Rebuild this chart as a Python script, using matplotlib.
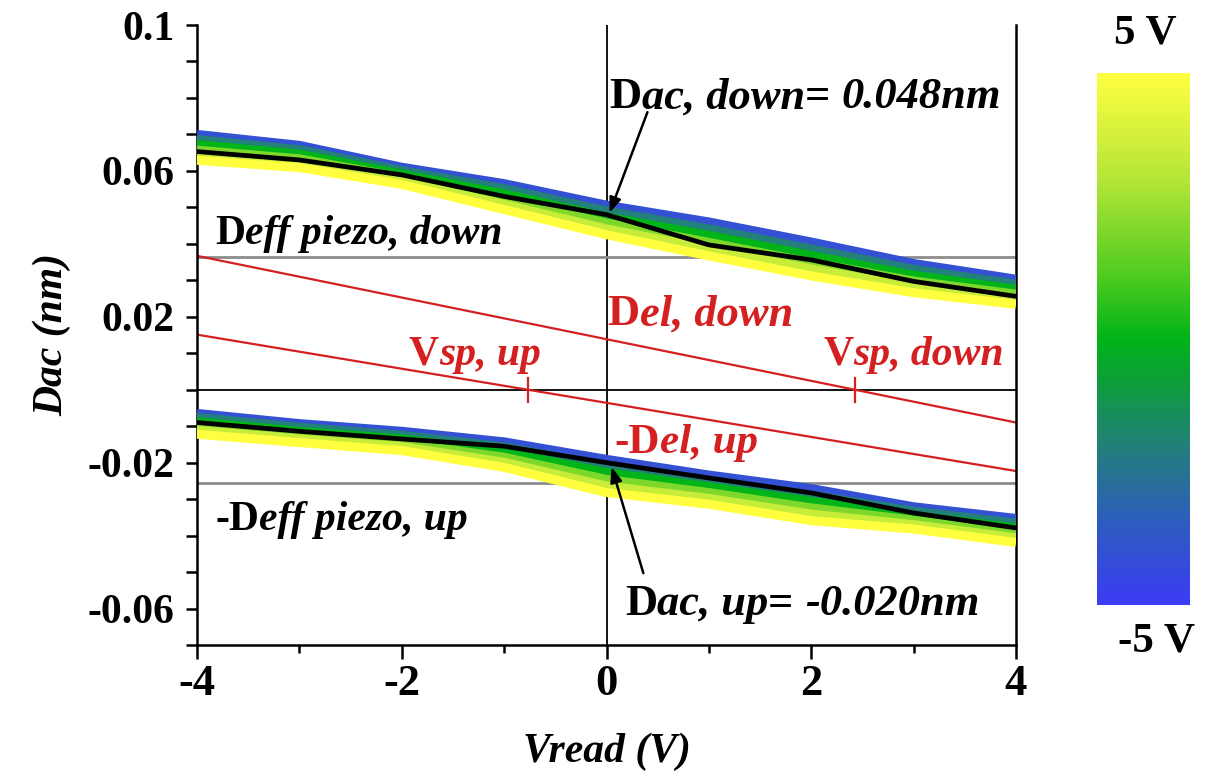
import numpy as np
import matplotlib
matplotlib.use("Agg")
import matplotlib.pyplot as plt
from matplotlib.colors import LinearSegmentedColormap
from matplotlib.ticker import FixedLocator

# ---------------- data ----------------
v_read = [-4, -3, -2, -1, 0, 1, 2, 3, 4]
v_write = [-4, -2, 0, 2, 3.5, 5]

# D_ac, "down" polarisation, one row per write voltage (nm)
dac_down = [
    [0.0700, 0.0670, 0.0610, 0.0565, 0.0506, 0.0460, 0.0405, 0.0346, 0.0303],
    [0.0686, 0.0658, 0.0601, 0.0551, 0.0490, 0.0441, 0.0386, 0.0330, 0.0289],
    [0.0672, 0.0646, 0.0591, 0.0537, 0.0474, 0.0423, 0.0368, 0.0314, 0.0275],
    [0.0657, 0.0633, 0.0582, 0.0522, 0.0457, 0.0404, 0.0349, 0.0298, 0.0262],
    [0.0643, 0.0621, 0.0572, 0.0508, 0.0441, 0.0386, 0.0331, 0.0282, 0.0248],
    [0.0629, 0.0609, 0.0563, 0.0494, 0.0425, 0.0367, 0.0312, 0.0266, 0.0234],
]
dac_down_mean = [0.0653, 0.0630, 0.0589, 0.0530, 0.0480, 0.0397, 0.0356, 0.0297, 0.0256]

# D_ac, "up" polarisation, one row per write voltage (nm)
dac_up = [
    [-0.0065, -0.0093, -0.0114, -0.0143, -0.0191, -0.0234, -0.0271, -0.0321, -0.0353],
    [-0.0076, -0.0103, -0.0125, -0.0157, -0.0209, -0.0250, -0.0289, -0.0333, -0.0366],
    [-0.0088, -0.0114, -0.0135, -0.0171, -0.0227, -0.0266, -0.0306, -0.0345, -0.0379],
    [-0.0099, -0.0124, -0.0146, -0.0185, -0.0246, -0.0282, -0.0324, -0.0358, -0.0393],
    [-0.0111, -0.0135, -0.0156, -0.0199, -0.0264, -0.0298, -0.0341, -0.0370, -0.0406],
    [-0.0122, -0.0145, -0.0167, -0.0213, -0.0282, -0.0314, -0.0359, -0.0382, -0.0419],
]
dac_up_mean = [-0.0090, -0.0114, -0.0135, -0.0155, -0.0200, -0.0242, -0.0283, -0.0338, -0.0379]

# effective piezo levels (nm)
deff_down = 0.0364
deff_up_neg = -0.0255

# electrostatic contributions, straight lines given at the ends of the read range
del_x = [-4, 4]
del_down = [0.0367, -0.0090]
del_up_neg = [0.0151, -0.0223]

x_ticks = [-4, -2, 0, 2, 4]
x_tick_labels = ["-4", "-2", "0", "2", "4"]
x_minor = [-3, -1, 1, 3]
y_ticks = [0.1, 0.06, 0.02, -0.02, -0.06]
y_tick_labels = ["0.1", "0.06", "0.02", "-0.02", "-0.06"]
y_minor = [0.09, 0.08, 0.07, 0.05, 0.04, 0.03, 0.01, 0.0, -0.01,
           -0.03, -0.04, -0.05, -0.07]

cb_low_label = "-5 V"
cb_high_label = "5 V"

# ---------------- style ----------------
SERIF = "Liberation Serif"
plt.rcParams["font.family"] = [SERIF, "DejaVu Serif"]

cmap = LinearSegmentedColormap.from_list(
    "vwrite",
    [(0.00, "#3c3cf5"), (0.15, "#2e5cc0"), (0.30, "#23807a"),
     (0.42, "#0e9e3a"), (0.50, "#00b418"), (0.62, "#50cc20"),
     (0.80, "#b4e638"), (1.00, "#ffff40")])

W, H = 1205, 778
fig = plt.figure(figsize=(W / 100, H / 100), dpi=100)
ax = fig.add_axes([197 / W, 1 - 645 / H, (1016 - 197) / W, (645 - 25) / H])

ax.set_xlim(-4, 4)
ax.set_ylim(-0.07, 0.1)

# reference lines
ax.axhline(0, color="black", lw=1.3, zorder=1)
ax.axvline(0, color="black", lw=1.3, zorder=1)
ax.axhline(deff_down, color="#8c8c8c", lw=2.0, zorder=1)
ax.axhline(deff_up_neg, color="#8c8c8c", lw=2.0, zorder=1)

# electrostatic lines and their zero crossings
red = "#d42020"
for ys in (del_down, del_up_neg):
    ax.plot(del_x, ys, color=red, lw=1.6, zorder=2)
    vsp = del_x[0] - ys[0] * (del_x[1] - del_x[0]) / (ys[1] - ys[0])
    ax.plot([vsp, vsp], [-0.0033, 0.0033], color=red, lw=1.6, zorder=2)

# D_ac bands, coloured by write voltage
norm = plt.Normalize(-5, 5)
for rows in (dac_down, dac_up):
    for vw, ys in zip(v_write, rows):
        ax.plot(v_read, ys, color=cmap(norm(vw)), lw=6.5,
                solid_capstyle="butt", solid_joinstyle="round", zorder=3)
ax.plot(v_read, dac_down_mean, color="black", lw=3.4, zorder=4)
ax.plot(v_read, dac_up_mean, color="black", lw=3.4, zorder=4)

# axes styling
for side in ("left", "bottom", "right"):
    ax.spines[side].set_linewidth(1.8)
ax.spines["top"].set_visible(False)
ax.xaxis.set_major_locator(FixedLocator(x_ticks))
ax.xaxis.set_minor_locator(FixedLocator(x_minor))
ax.yaxis.set_major_locator(FixedLocator(y_ticks))
ax.yaxis.set_minor_locator(FixedLocator(y_minor))
ax.set_xticklabels(x_tick_labels)
ax.set_yticklabels(y_tick_labels)
ax.tick_params(axis="x", which="major", direction="out", length=10, width=1.8, pad=4,
               labelsize=32)
ax.tick_params(axis="x", which="minor", direction="out", length=6, width=1.8)
ax.tick_params(axis="y", which="both", direction="out", length=8, width=1.8, pad=8,
               labelsize=30)
for lab in ax.get_xticklabels() + ax.get_yticklabels():
    lab.set_fontweight("bold")

ax.set_xlabel("Vread (V)", fontsize=30, fontstyle="italic", fontweight="bold", labelpad=20)
ax.set_ylabel("Dac (nm)", fontsize=30, fontstyle="italic", fontweight="bold", labelpad=12)


def rich(x, y, parts, size, color="black"):
    """Write a label whose pieces alternate between upright and italic bold."""
    prev = None
    for s, style in parts:
        kw = dict(fontsize=size, color=color, fontweight="bold",
                  fontstyle="italic" if style == "i" else "normal", zorder=6)
        if prev is None:
            prev = ax.text(x, y, s, ha="left", va="baseline", **kw)
        else:
            prev = ax.annotate(s, xy=(1, 0), xycoords=prev, ha="left", va="bottom", **kw)
    return prev


rich(-3.82, 0.0400, [("D", "n"), ("eff piezo, down", "i")], 30)
rich(-3.82, -0.0385, [("-D", "n"), ("eff piezo, up", "i")], 30)
rich(0.03, 0.0772, [("D", "n"), ("ac, down", "i"), ("= ", "n"), ("0.048nm", "i")], 32)
rich(0.18, -0.0618, [("D", "n"), ("ac, up", "i"), ("= ", "n"), ("-0.020nm", "i")], 32)
rich(0.01, 0.0177, [("D", "n"), ("el, down", "i")], 32, red)
rich(0.08, -0.0174, [("-D", "n"), ("el, up", "i")], 31, red)
rich(-1.93, 0.0068, [("V", "n"), ("sp, up", "i")], 30, red)
rich(2.12, 0.0068, [("V", "n"), ("sp, down", "i")], 30, red)

arrow = dict(arrowstyle="-|>,head_length=0.9,head_width=0.35", color="black", lw=1.8,
             shrinkA=0, shrinkB=0)
ax.annotate("", xy=(0.03, 0.0485), xytext=(0.40, 0.0761), arrowprops=arrow, zorder=6)
ax.annotate("", xy=(0.05, -0.0212), xytext=(0.36, -0.0503), arrowprops=arrow, zorder=6)

# colour bar for the write voltage
cax = fig.add_axes([1097 / W, 1 - 605 / H, (1190 - 1097) / W, (605 - 73) / H])
grad = np.linspace(-5, 5, 256).reshape(-1, 1)
cax.imshow(grad, cmap=cmap, norm=norm, aspect="auto", origin="lower",
           extent=[0, 1, -5, 5])
cax.set_axis_off()
fig.text(1145 / W, 1 - 33 / H, cb_high_label, ha="center", va="center",
         fontsize=31, fontweight="bold")
fig.text(1157 / W, 1 - 641 / H, cb_low_label, ha="center", va="center",
         fontsize=31, fontweight="bold")

fig.savefig("out.png", dpi=100, facecolor="white")
